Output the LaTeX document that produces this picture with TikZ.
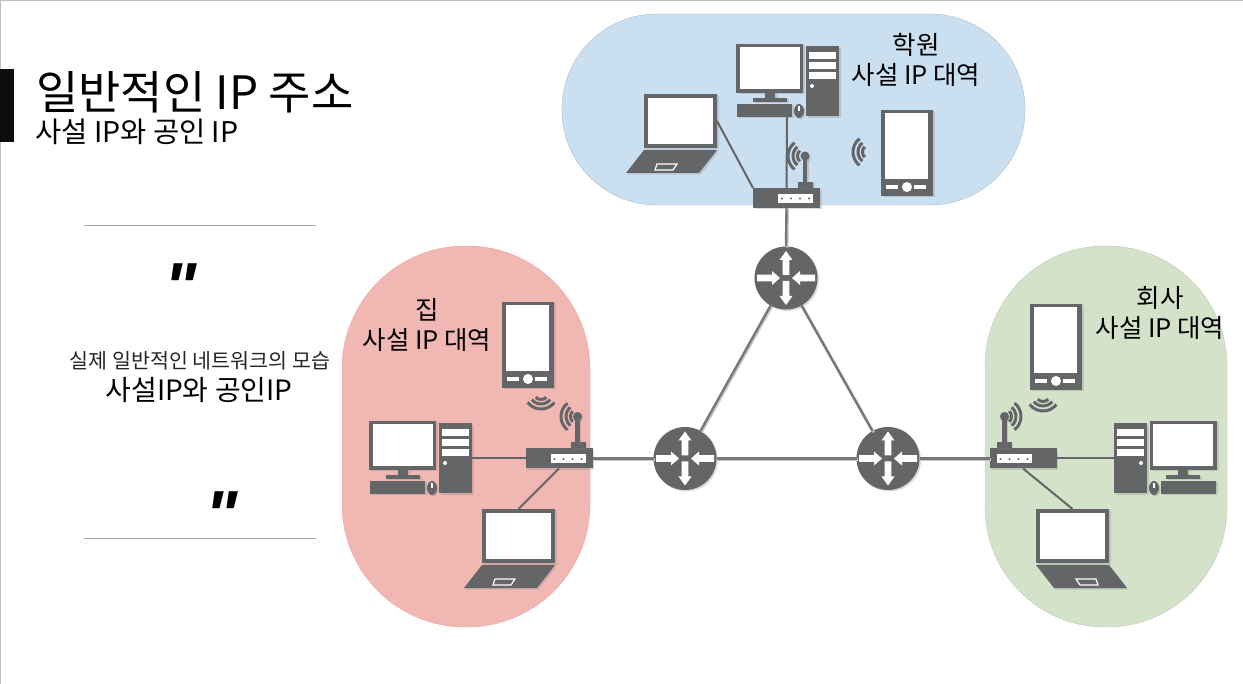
\documentclass[tikz,border=0pt]{standalone}
\usepackage{fontspec}
\setmainfont{Noto Sans CJK KR}
\newfontfamily\quotefont{Liberation Sans}
\usetikzlibrary{shadows}
\definecolor{icongray}{HTML}{646567}
\definecolor{linkgray}{HTML}{77787A}
\definecolor{blueregion}{HTML}{CADFF0}
\definecolor{redregion}{HTML}{F0B7B3}
\definecolor{greenregion}{HTML}{D3E2C8}
\tikzset{
    iconshape/.style={fill=icongray,drop shadow={opacity=.28,shadow xshift=1.5pt,shadow yshift=-1.5pt}},
    iconbox/.style={rectangle,inner sep=0pt,outer sep=0pt,iconshape},
    routernode/.style={circle,inner sep=0pt,outer sep=0pt,minimum size=63pt,iconshape},
    switchnode/.style={iconbox,minimum width=67pt,minimum height=20pt},
    region/.style={rounded corners=#1},
    link/.style={draw=linkgray,line width=2.4pt,preaction={draw=black!22,line width=2.4pt,transform canvas={xshift=1.2pt,yshift=-1.2pt}}},
    lanlink/.style={draw=icongray,line width=2pt},
    wave/.style={draw=icongray,line width=3pt},
    regionlabel/.style={inner sep=0pt,align=center,font=\fontsize{25.5}{30}\selectfont},
    quotemark/.style={inner sep=0pt,font=\quotefont\bfseries\itshape\fontsize{68}{68}\selectfont},
    pics/waves/.style={code={
        \draw[wave] (-52:17pt) arc[start angle=-52,end angle=52,radius=17pt];
        \draw[wave] (-50:12pt) arc[start angle=-50,end angle=50,radius=12pt];
        \draw[wave] (-45:7.5pt) arc[start angle=-45,end angle=45,radius=7.5pt];
    }},
    pics/desktop/.style={code={
        \fill[iconshape] (0,0) rectangle (67,49);
        \fill[white] (4,3) rectangle (64,45);
        \fill[iconshape] (29,49) rectangle (39,54);
        \fill[iconshape] (17,54) rectangle (51,58);
        \fill[iconshape] (1,60) rectangle (56,73);
        \fill[iconshape] (63,67) ellipse (5 and 7);
        \fill[white] (62.4,62) rectangle (63.6,67);
        \node[iconbox,minimum width=33pt,minimum height=70pt] (-tower) at (86.5,37.5) {};
        \foreach \bay in {8,18,28}
            \fill[white] (73,\bay) rectangle (100,\bay+7);
        \fill[white] (76,42) circle (2);
        \coordinate (-jack) at (51,73);
    }},
    pics/laptop/.style={code={
        \node[iconbox,minimum width=73pt,minimum height=54pt] (-lid) at (36.5,27) {};
        \fill[white] (4,4) rectangle (69,50);
        \fill[iconshape] (0,56) -- (73,56) -- (55,79) -- (-18,79) -- cycle;
        \draw[white,line width=1.2pt] (13,70) -- (33,70) -- (29,76) -- (11,76) -- cycle;
    }},
    pics/phone/.style={code={
        \fill[iconshape] (0,0) rectangle (52,86);
        \fill[white] (4,3) rectangle (47,69);
        \fill[white] (26,77) circle (5);
        \fill[white] (5,75) rectangle (17,79);
        \fill[white] (33,75) rectangle (45,79);
    }},
    pics/wifibits/.style={code={
        \fill[white] (25,6) rectangle (60,15);
        \foreach \dot in {29,38,47,56}
            \fill[icongray] (\dot,10.5) circle (1.2);
        \fill[iconshape] (45,-6) rectangle (60,0);
        \fill[iconshape] (49.8,-32) rectangle (54.2,-6);
        \fill[iconshape] (52,-32) circle (4.5);
    }},
    pics/routerarrows/.style={code={
        \foreach \angle in {0,180}
            \fill[white,rotate=\angle] (-29,-3.3) -- (-14,-3.3) -- (-14,-7) -- (-6,0) -- (-14,7) -- (-14,3.3) -- (-29,3.3) -- cycle;
        \foreach \angle in {0,180}
            \fill[white,rotate=\angle] (-3.3,-3) -- (-3.3,-18) -- (-6.5,-18) -- (0,-27) -- (6.5,-18) -- (3.3,-18) -- (3.3,-3) -- cycle;
    }},
}
\begin{document}
\begin{tikzpicture}[x=1pt,y=-1pt]
    \useasboundingbox (0,0) rectangle (1243,684);
    \fill[white] (0,0) rectangle (1243,684);
    \fill[black!25] (0,0) rectangle (1243,1.5);
    \fill[black!25] (0,0) rectangle (1,684);

    % Title
    \fill[black!95] (0,69) rectangle (14,142);
    \node[inner sep=0pt,anchor=west,font=\fontsize{46}{50}\selectfont] (title) at (36,92) {일반적인 IP 주소};
    \node[inner sep=0pt,anchor=west,font=\fontsize{28.5}{30}\selectfont] (subtitle) at (35,132) {사설 IP와 공인 IP};

    % Quote on the left
    \draw[black!35,line width=1pt] (84,226) -- (316,226);
    \draw[black!35,line width=1pt] (84,538) -- (316,538);
    \node[quotemark] (quoteopen) at (181,287) {"};
    \node[quotemark] (quoteclose) at (222,515) {"};
    \node[inner sep=0pt,font=\fontsize{20.6}{22}\selectfont,text=black!85] (quoteline) at (200,361) {실제 일반적인 네트워크의 모습};
    \node[inner sep=0pt,font=\fontsize{28}{30}\selectfont] (quotemain) at (199,390) {사설IP와 공인IP};

    % Regions
    \draw[region=95pt,fill=blueregion,draw=blueregion!85!black] (562,14) rectangle (1025,205);
    \draw[region=123pt,fill=redregion,draw=redregion!90!red] (342,246) rectangle (590,627);
    \draw[region=120pt,fill=greenregion,draw=greenregion!90!black] (985,246) rectangle (1227,627);
    \node[regionlabel] (bluelabel) at (916,60) {학원\\사설 IP 대역};
    \node[regionlabel] (redlabel) at (427,325) {집\\사설 IP 대역};
    \node[regionlabel] (greenlabel) at (1160,313) {회사\\사설 IP 대역};

    % Routers
    \node[routernode] (router1) at (786,278) {};
    \node[routernode] (router2) at (685,458.5) {};
    \node[routernode] (router3) at (888,458.5) {};
    \foreach \rname in {router1,router2,router3}
        \pic at (\rname) {routerarrows};

    % Switches
    \node[switchnode] (switch1) at (786.5,198) {};
    \node[switchnode] (switch2) at (559,458.5) {};
    \node[switchnode] (switch3) at (1023,458.5) {};
    \pic at (switch1.north west) {wifibits};
    \pic at (switch2.north west) {wifibits};
    \pic[xscale=-1] at (switch3.north east) {wifibits};
    \pic[rotate=180] at (805,156) {waves};
    \pic[rotate=180] at (578,416.5) {waves};
    \pic at (1004,416.5) {waves};

    % Devices
    \pic (desk1) at (736,44) {desktop};
    \pic (desk2) at (369,421) {desktop};
    \pic[xscale=-1] (desk3) at (1217,421) {desktop};
    \pic (lap1) at (644,94) {laptop};
    \pic (lap2) at (482,509) {laptop};
    \pic[xscale=-1] (lap3) at (1109,509) {laptop};
    \pic (phone1) at (881,110) {phone};
    \pic (phone2) at (502,302) {phone};
    \pic (phone3) at (1030,304) {phone};
    \pic[rotate=180] at (870,152) {waves};
    \pic[rotate=-90] at (541,392) {waves};
    \pic[rotate=-90] at (1043,394) {waves};

    % Links
    \draw[link] (router1) -- (router2);
    \draw[link] (router1) -- (router3);
    \draw[link] (router2) -- (router3);
    \draw[link] (switch1.south) -- (router1.north);
    \draw[link] (switch2.east) -- (router2.west);
    \draw[link] (router3.east) -- (switch3.west);
    \draw[lanlink] (desk1-jack) -- (switch1.north);
    \draw[lanlink] (lap1-lid.east) -- (switch1.north west);
    \draw[lanlink] (desk2-tower.east) -- (switch2.west);
    \draw[lanlink] (lap2-lid.north) -- (switch2.south);
    \draw[lanlink] (switch3.east) -- (desk3-tower.west);
    \draw[lanlink] (switch3.south) -- (lap3-lid.north);
\end{tikzpicture}
\end{document}
